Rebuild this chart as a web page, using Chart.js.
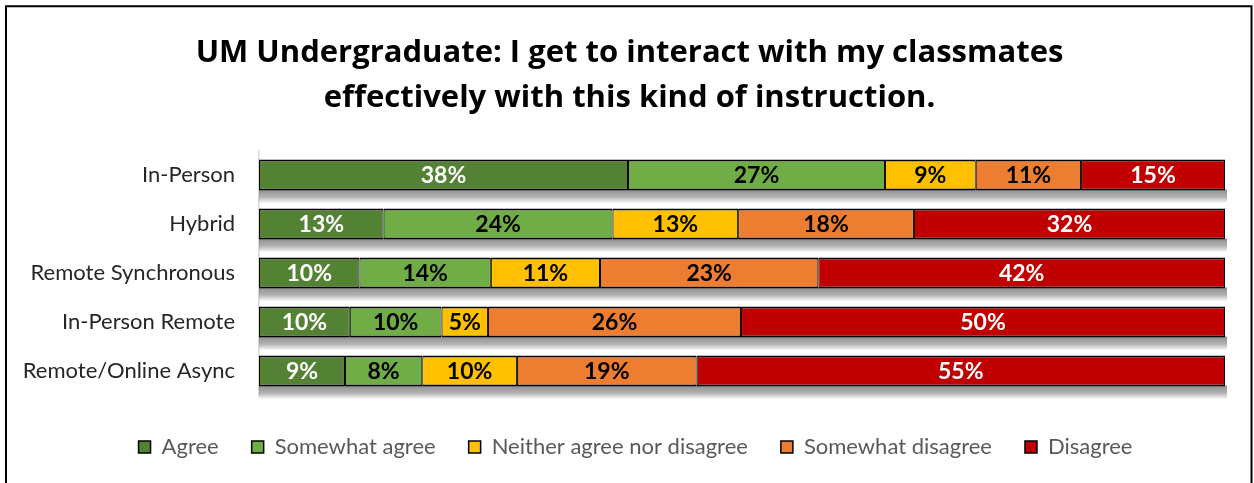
<!DOCTYPE html>
<html>
<head>
<meta charset="utf-8">
<script src="https://cdn.jsdelivr.net/npm/chart.js@4/dist/chart.umd.min.js"></script>
<style>
  html, body { margin: 0; padding: 0; background: #fff; }
  #wrap { position: relative; width: 1254px; height: 483px; }
</style>
</head>
<body>
<div id="wrap"><canvas id="c" width="1254" height="483"></canvas></div>
<script>
// ---- Data ----
const categories = ['In-Person', 'Hybrid', 'Remote Synchronous', 'In-Person Remote', 'Remote/Online Async'];
const seriesNames = ['Agree', 'Somewhat agree', 'Neither agree nor disagree', 'Somewhat disagree', 'Disagree'];

// segment widths (percent of the bar)
const agree            = [38.2, 12.9, 10.4,  9.4,  8.9];
const somewhatAgree    = [26.6, 23.7, 13.6,  9.5,  8.0];
const neither          = [ 9.4, 13.0, 11.3,  4.8,  9.8];
const somewhatDisagree = [10.9, 18.2, 22.6, 26.2, 18.6];
const disagree         = [14.9, 32.2, 42.1, 50.1, 54.7];

// percentages printed on the segments
const agreeLabels            = [38, 13, 10, 10,  9];
const somewhatAgreeLabels    = [27, 24, 14, 10,  8];
const neitherLabels          = [ 9, 13, 11,  5, 10];
const somewhatDisagreeLabels = [11, 18, 23, 26, 19];
const disagreeLabels         = [15, 32, 42, 50, 55];

const titleLines = ['UM Undergraduate: I get to interact with my classmates', 'effectively with this kind of instruction.'];

// ---- Styles ----
const colors = ['#548235', '#70AD47', '#FFC000', '#ED7D31', '#C00000'];
const labelColors = ['#ffffff', '#000000', '#000000', '#000000', '#ffffff'];
const seriesValues = [agree, somewhatAgree, neither, somewhatDisagree, disagree];
const seriesLabels = [agreeLabels, somewhatAgreeLabels, neitherLabels, somewhatDisagreeLabels, disagreeLabels];

const datasets = seriesNames.map((name, i) => ({
  label: name,
  data: seriesValues[i],
  shownLabels: seriesLabels[i],
  labelColor: labelColors[i],
  backgroundColor: colors[i],
  borderColor: '#000000',
  borderWidth: { top: 2, bottom: 2, left: 1, right: 1 },
  borderSkipped: false,
  barPercentage: 0.633,
  categoryPercentage: 1.0
}));

const framePlugin = {
  id: 'frame',
  afterLayout(chart) {
    // let the category labels use the space left of the axis box
    chart.scales.y.left = 0;
    if (chart.legend) { chart.legend.left += 6; chart.legend.right += 6; }
  },
  beforeDraw(chart) {
    const ctx = chart.ctx;
    ctx.save();
    ctx.fillStyle = '#ffffff';
    ctx.fillRect(0, 0, chart.width, chart.height);
    ctx.strokeStyle = '#000000';
    ctx.lineWidth = 2;
    ctx.beginPath();
    ctx.moveTo(6, chart.height + 2);
    ctx.lineTo(6, 6.3);
    ctx.lineTo(chart.width - 2.5, 6.3);
    ctx.lineTo(chart.width - 2.5, chart.height + 2);
    ctx.stroke();
    ctx.restore();
  }
};

const shadowPlugin = {
  id: 'barShadow',
  beforeDatasetsDraw(chart) {
    const ctx = chart.ctx;
    const n = chart.data.datasets.length;
    const first = chart.getDatasetMeta(0);
    const last = chart.getDatasetMeta(n - 1);
    ctx.save();
    first.data.forEach((el, i) => {
      const l = el.base;
      const r = last.data[i].x;
      const b = el.y + el.height / 2;
      const g = ctx.createLinearGradient(0, b, 0, b + 13);
      g.addColorStop(0, 'rgba(0,0,0,0.42)');
      g.addColorStop(0.5, 'rgba(0,0,0,0.30)');
      g.addColorStop(1, 'rgba(0,0,0,0)');
      ctx.fillStyle = g;
      ctx.fillRect(l, b - 1, r - l + 2, 14);
    });
    ctx.restore();
  }
};

const valueLabelPlugin = {
  id: 'valueLabels',
  afterDatasetsDraw(chart) {
    const ctx = chart.ctx;
    ctx.save();
    ctx.font = 'bold 23px Lato';
    ctx.textAlign = 'center';
    ctx.textBaseline = 'middle';
    chart.data.datasets.forEach((ds, di) => {
      const meta = chart.getDatasetMeta(di);
      meta.data.forEach((el, i) => {
        ctx.fillStyle = ds.labelColor;
        ctx.fillText(ds.shownLabels[i] + '%', (el.x + el.base) / 2, el.y + 1);
      });
    });
    ctx.restore();
  }
};

new Chart(document.getElementById('c'), {
  type: 'bar',
  data: { labels: categories, datasets },
  options: {
    indexAxis: 'y',
    responsive: false,
    animation: false,
    events: [],
    layout: { padding: { left: 34, right: 29, top: 0, bottom: 15 } },
    scales: {
      x: {
        stacked: true, min: 0, max: 100,
        display: true,
        grid: { display: false },
        border: { display: false },
        ticks: { display: false },
        afterFit(axis) { axis.height = 7.5; }
      },
      y: {
        stacked: true,
        grid: { display: false },
        border: { display: true, color: '#d9d9d9', width: 1.5 },
        ticks: { color: '#262626', font: { family: 'Lato', size: 22 }, padding: 16 },
        afterFit(axis) { axis.width = 225; }
      }
    },
    plugins: {
      title: {
        display: true,
        text: titleLines,
        color: '#000000',
        font: { family: 'Open Sans', size: 31, weight: 'bold', lineHeight: 1.45 },
        padding: { top: 31, bottom: 29.5 }
      },
      legend: {
        position: 'bottom',
        labels: {
          color: '#595959',
          font: { family: 'Lato', size: 22 },
          boxWidth: 12, boxHeight: 12,
          padding: 33
        }
      },
      tooltip: { enabled: false }
    }
  },
  plugins: [framePlugin, shadowPlugin, valueLabelPlugin]
});
</script>
</body>
</html>
